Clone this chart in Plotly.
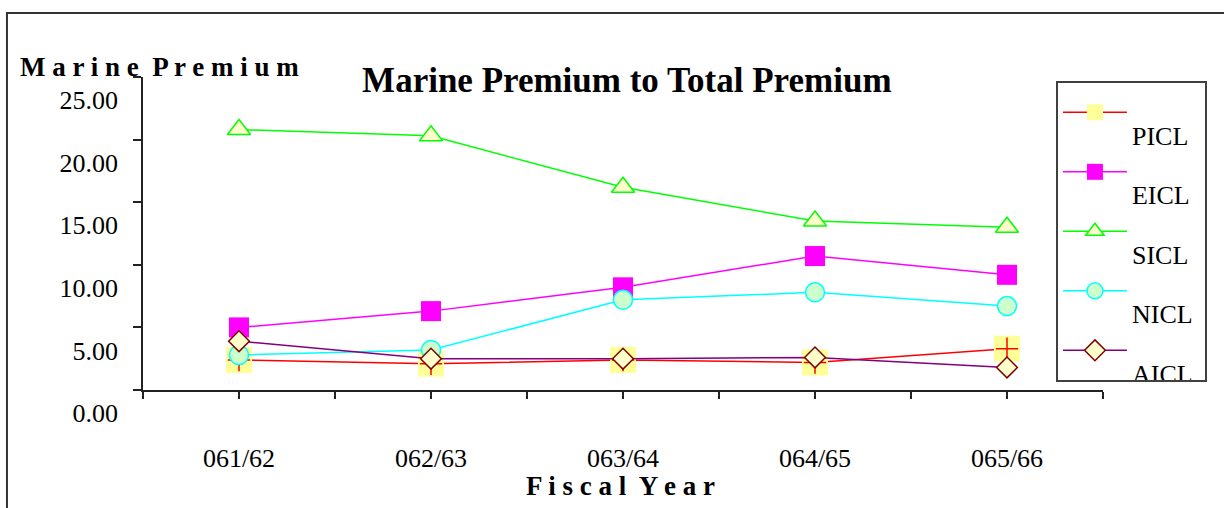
import plotly.graph_objects as go

# Fiscal years on the category axis
years = ["061/62", "062/63", "063/64", "064/65", "065/66"]

# Marine premium as % of total premium, per company
picl = [2.4, 2.1, 2.4, 2.2, 3.3]
eicl = [5.0, 6.3, 8.2, 10.7, 9.2]
sicl = [20.8, 20.3, 16.2, 13.5, 13.0]
nicl = [2.8, 3.2, 7.2, 7.8, 6.7]
aicl = [3.9, 2.5, 2.5, 2.6, 1.8]

y_ticks = [0, 5, 10, 15, 20, 25]

SERIF = "Liberation Serif, Times New Roman, serif"
xpos = list(range(len(years)))

# tick marks at every category and halfway between; labels only on categories
x_tickvals = [i / 2 - 0.5 for i in range(2 * len(years) + 1)]
x_ticktext = [years[int(v)] if float(v).is_integer() else "" for v in x_tickvals]


def legend_name(txt):
    # legend text is set a little below its symbol
    return ('<span style="font-size:26px;baseline-shift:-19px">'
            + txt + "\u00a0</span>")


series = [
    dict(name="PICL", y=picl, line="#FF0000",
         marker=dict(symbol="square", size=26, color="#FFFF99", line=dict(width=0))),
    dict(name="EICL", y=eicl, line="#FF00FF",
         marker=dict(symbol="square", size=20, color="#FF00FF", line=dict(width=0))),
    dict(name="SICL", y=sicl, line="#00FF00",
         marker=dict(symbol="triangle-up", size=20, color="#FFFFCC",
                     line=dict(color="#00FF00", width=1.5))),
    dict(name="NICL", y=nicl, line="#00FFFF",
         marker=dict(symbol="circle", size=19, color="#CCFFCC",
                     line=dict(color="#00FFFF", width=1.5))),
    dict(name="AICL", y=aicl, line="#800080",
         marker=dict(symbol="diamond", size=16, color="#FFFFCC",
                     line=dict(color="#800000", width=1.5))),
]

fig = go.Figure()
for s in series:
    fig.add_trace(go.Scatter(
        x=xpos, y=s["y"], mode="lines+markers",
        name=legend_name(s["name"]), legendgroup=s["name"],
        line=dict(color=s["line"], width=1.5),
        marker=s["marker"],
    ))
    if s["name"] == "PICL":
        # red cross drawn over the yellow square
        fig.add_trace(go.Scatter(
            x=xpos, y=s["y"], mode="markers", showlegend=False,
            legendgroup="PICL",
            marker=dict(symbol="cross-thin", size=16,
                        line=dict(color="#FF0000", width=1.5)),
        ))

axis_color = "#222222"

fig.update_layout(
    width=1224, height=508,
    margin=dict(l=143, r=121, t=77, b=118),
    paper_bgcolor="white", plot_bgcolor="white",
    font=dict(family=SERIF, size=26, color="black"),
    showlegend=True,
    title=dict(
        text="<b>Marine Premium to Total Premium</b>",
        font=dict(family=SERIF, size=35, color="black"),
        x=0.504, xref="paper", xanchor="center",
        y=1 - 80 / 508, yref="container", yanchor="middle",
    ),
    xaxis=dict(
        range=[-0.5, 4.5], tickmode="array",
        tickvals=x_tickvals, ticktext=x_ticktext,
        ticks="outside", ticklen=7, tickwidth=1.5, tickcolor=axis_color,
        showline=True, linecolor=axis_color, linewidth=1.5,
        showgrid=False, zeroline=False,
        ticklabelstandoff=37,
        tickfont=dict(family=SERIF, size=26, color="black"),
    ),
    xaxis2=dict(
        overlaying="x", anchor="y", matches="x",
        range=[-0.5, 4.5], tickmode="array", tickvals=x_tickvals,
        showticklabels=False, ticks="inside", ticklen=7, tickwidth=1.5,
        tickcolor=axis_color, showline=False, showgrid=False, zeroline=False,
    ),
    yaxis=dict(
        range=[0, 25], tickmode="array", tickvals=y_ticks,
        tickformat=".2f",
        ticks="outside", ticklen=8, tickwidth=1.5, tickcolor=axis_color,
        showline=True, linecolor=axis_color, linewidth=1.5,
        showgrid=False, zeroline=False,
        ticklabelshift=23, ticklabelstandoff=10,
        tickfont=dict(family=SERIF, size=26, color="black"),
    ),
    legend=dict(
        x=0.9510, xanchor="left", y=0.987, yanchor="top",
        bordercolor="#404040", borderwidth=2, bgcolor="white",
        font=dict(family=SERIF, size=35, color="black"),
        traceorder="grouped", tracegroupgap=11, itemwidth=64,
        valign="middle",
    ),
    annotations=[
        dict(text="<b>M a r i n e  P r e m i u m</b>",
             xref="paper", yref="paper", x=-0.130, y=1.032,
             xanchor="left", yanchor="middle", showarrow=False,
             font=dict(family=SERIF, size=27, color="black")),
        dict(text="<b>F i s c a l  Y e a r</b>",
             xref="paper", yref="paper", x=0.497, y=-0.306,
             xanchor="center", yanchor="middle", showarrow=False,
             font=dict(family=SERIF, size=27, color="black")),
    ],
    shapes=[
        # outer chart frame (left and top edges visible)
        dict(type="rect", xref="paper", yref="paper",
             x0=-0.1417, x1=1.14, y0=-0.45, y1=1.2045,
             line=dict(color="#333333", width=2), layer="below"),
    ],
)

fig.write_html("out.html")
